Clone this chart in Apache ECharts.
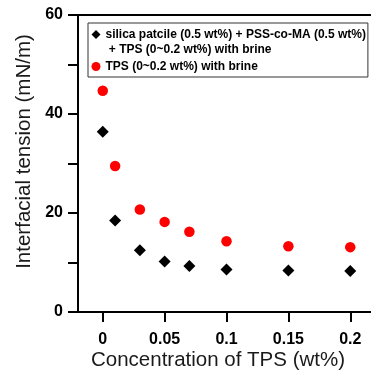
<!DOCTYPE html>
<html>
<head>
<meta charset="utf-8">
<script src="https://cdn.jsdelivr.net/npm/echarts@6/dist/echarts.min.js"></script>
<style>
html,body{margin:0;padding:0;background:#fff;}
#chart{width:371px;height:371px;}
</style>
</head>
<body>
<div id="chart"></div>
<script>
const xValues = [0, 0.01, 0.03, 0.05, 0.07, 0.1, 0.15, 0.2];
const silicaValues = [36.4, 18.5, 12.5, 10.2, 9.3, 8.6, 8.4, 8.3];
const tpsValues = [44.7, 29.5, 20.7, 18.2, 16.2, 14.3, 13.3, 13.1];
const xTickValues = [0, 0.05, 0.1, 0.15, 0.2];
const yLabelValues = [0, 20, 40, 60];
const silicaName = 'silica patcile (0.5 wt%) + PSS-co-MA (0.5 wt%)';
const silicaName2 = ' + TPS (0~0.2 wt%) with brine';
const tpsName = 'TPS (0~0.2 wt%) with brine';
const xTitle = 'Concentration of TPS (wt%)';
const yTitle = 'Interfacial tension (mN/m)';

const chart = echarts.init(document.getElementById('chart'), null, {renderer: 'canvas'});
const pair = (xs, ys) => xs.map((x, i) => [x, ys[i]]);
const FONT = 'Liberation Sans, Arial, sans-serif';

chart.setOption({
  animation: false,
  backgroundColor: '#fff',
  textStyle: {fontFamily: FONT},
  grid: {
    left: 78, top: 15, bottom: 59, right: -4,
    containLabel: false, outerBoundsMode: 'none',
    show: true, borderColor: '#000', borderWidth: 2, backgroundColor: 'transparent'
  },
  legend: {
    orient: 'vertical',
    left: 88, top: 23,
    padding: [4, 2, 1, 3.5],
    itemGap: 0,
    itemWidth: 9, itemHeight: 9,
    borderColor: '#333', borderWidth: 1,
    textStyle: {fontFamily: FONT, fontWeight: 'bold', fontSize: 12, color: '#000', lineHeight: 15},
    data: [
      {name: silicaName, icon: 'diamond'},
      {name: silicaName2, icon: 'none'},
      {name: tpsName, icon: 'circle', textStyle: {lineHeight: 19}}
    ]
  },
  xAxis: {
    type: 'value',
    min: -0.02, max: 0.22,
    name: xTitle,
    nameLocation: 'middle',
    nameGap: 38,
    nameMoveOverlap: false,
    nameTextStyle: {fontFamily: FONT, fontSize: 20.5, color: '#1a1a1a', padding: [0, 17, 0, 0]},
    axisLine: {show: true, onZero: false, lineStyle: {color: '#000', width: 2}},
    axisTick: {show: true, inside: false, length: 10, lineStyle: {color: '#000', width: 2}, customValues: xTickValues},
    axisLabel: {show: true, margin: 20, fontFamily: FONT, fontWeight: 'bold', fontSize: 16, color: '#000', customValues: xTickValues,
      formatter: v => String(v)},
    splitLine: {show: false}
  },
  yAxis: {
    type: 'value',
    min: 0, max: 60, interval: 10,
    name: yTitle,
    nameLocation: 'middle',
    nameGap: 43,
    nameMoveOverlap: false,
    nameTextStyle: {fontFamily: FONT, fontSize: 20.5, color: '#1a1a1a', padding: [0, 0, 0, 24]},
    axisLine: {show: true, onZero: false, lineStyle: {color: '#000', width: 2}},
    axisTick: {show: true, inside: false, length: 10, lineStyle: {color: '#000', width: 2}},
    axisLabel: {show: true, margin: 15, fontFamily: FONT, fontWeight: 'bold', fontSize: 16, color: '#000',
      formatter: v => yLabelValues.includes(v) ? String(v) : ''},
    splitLine: {show: false}
  },
  series: [
    {
      name: silicaName, type: 'scatter', symbol: 'diamond', symbolSize: 12,
      itemStyle: {color: '#000', opacity: 1},
      data: pair(xValues, silicaValues)
    },
    {
      name: silicaName2, type: 'scatter', symbol: 'none', data: []
    },
    {
      name: tpsName, type: 'scatter', symbol: 'circle', symbolSize: 10.5,
      itemStyle: {color: '#ff0000', opacity: 1},
      data: pair(xValues, tpsValues)
    }
  ]
});
</script>
</body>
</html>
